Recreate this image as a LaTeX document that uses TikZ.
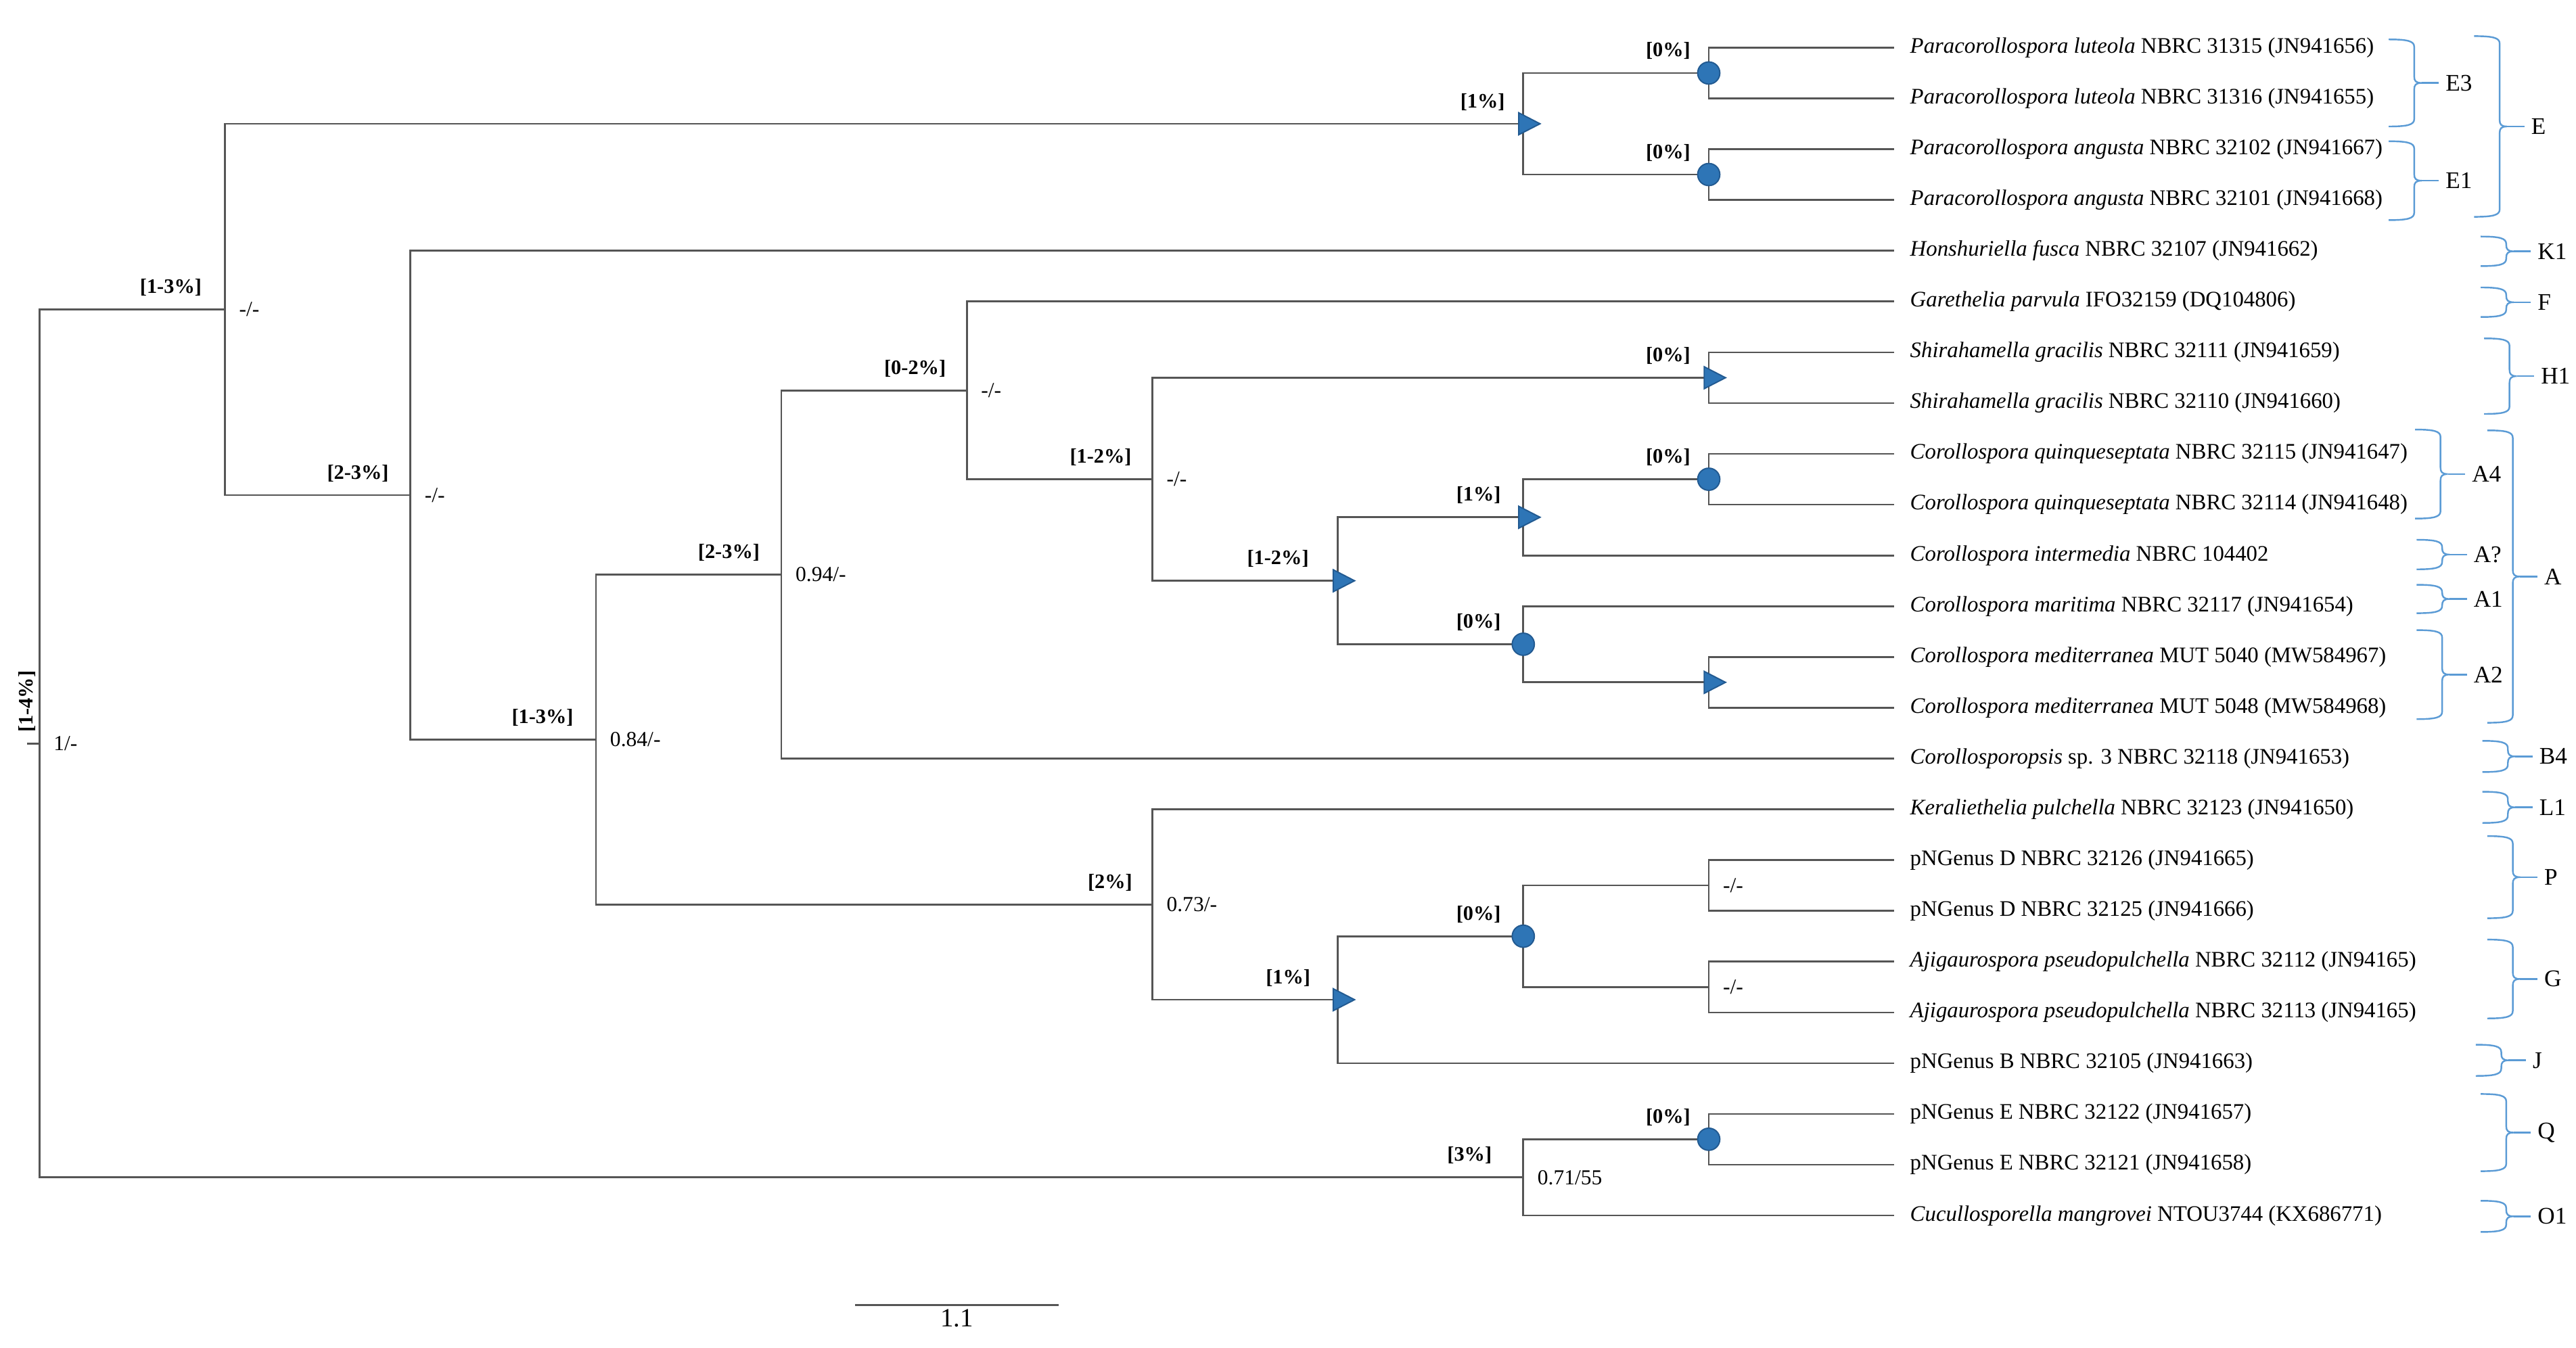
\documentclass[tikz,border=0pt]{standalone}
\usepackage{fontspec}
\setmainfont{Liberation Serif}
\usepackage{tikz}
\usetikzlibrary{shapes.geometric,positioning}

\definecolor{markblue}{RGB}{46,117,182}
\definecolor{markedge}{RGB}{34,90,145}
\definecolor{bracecol}{RGB}{91,155,213}
\definecolor{treegray}{RGB}{85,85,85}

% x position of a tree level
\newcommand{\lvl}[1]{24+112.9*#1}

% curly brace with a clade name: x, top, bottom, node name, text
\newcommand{\cladebrace}[5]{%
  \pgfmathsetmacro{\brx}{#1+15.5}%
  \pgfmathsetmacro{\brm}{(#2+#3)/2}%
  \draw[brace] (#1,#2) .. controls (\brx-4,#2) and (\brx,#2+1) .. (\brx,#2+4.5)
    -- (\brx,\brm-4) .. controls (\brx,\brm-1.2) and (\brx+1,\brm) .. (\brx+4.5,\brm)
    .. controls (\brx+1,\brm) and (\brx,\brm+1.2) .. (\brx,\brm+4)
    -- (\brx,#3-4.5) .. controls (\brx,#3-1) and (\brx-4,#3) .. (#1,#3);
  \coordinate (#4-tip) at (\brx+4.5,\brm);
  \node[clade, right=10.5pt of #4-tip] (#4) {#5};
  \draw[brace] (#4-tip) -- (#4);
}

\begin{document}
\begin{tikzpicture}[
    x=1pt, y=-1pt,
    branch/.style={draw=treegray, line width=1.1pt},
    leaf/.style={inner sep=0pt, font=\fontsize{13.5}{16}\selectfont},
    pct/.style={inner sep=0pt, font=\fontsize{12.5}{15}\selectfont\bfseries},
    supp/.style={inner sep=0pt, font=\fontsize{13}{15}\selectfont},
    tri/.style={isosceles triangle, isosceles triangle stretches, minimum width=13.4pt, minimum height=13pt, inner sep=0pt, fill=markblue, draw=markedge, line width=0.8pt},
    dot/.style={circle, minimum size=13.5pt, inner sep=0pt, fill=markblue, draw=markedge, line width=0.8pt},
    brace/.style={draw=bracecol, line width=1pt},
    clade/.style={inner xsep=4pt, inner ysep=0pt, font=\fontsize{14.5}{17}\selectfont},
    scalelab/.style={inner sep=0pt, font=\fontsize{16}{18}\selectfont}
]
    \useasboundingbox (0,0) rectangle (1568,820.6);

    % Leaves
    \foreach \i in {1,...,24}
        \coordinate (l\i) at (\lvl{10}, {29+(\i-1)*30.913});

    % Internal nodes
    \coordinate (root) at (\lvl{0}, 452.6);
    \coordinate (stub) at (16.5, 452.6);
    \coordinate (a1)  at (\lvl{1}, 188.4);
    \coordinate (a2)  at (\lvl{2}, 301.45);
    \coordinate (a3)  at (\lvl{3}, 450.2);
    \coordinate (a4)  at (\lvl{4}, 349.75);
    \coordinate (a5)  at (\lvl{5}, 237.7);
    \coordinate (a6)  at (\lvl{6}, 291.75);
    \coordinate (a7)  at (\lvl{7}, 353.55);
    \coordinate (a8)  at (\lvl{8}, 314.9);
    \coordinate (m8)  at (\lvl{8}, 392.2);
    \coordinate (e8)  at (\lvl{8}, 75.35);
    \coordinate (e9a) at (\lvl{9}, 44.45);
    \coordinate (e9b) at (\lvl{9}, 106.25);
    \coordinate (h9)  at (\lvl{9}, 229.95);
    \coordinate (q9)  at (\lvl{9}, 291.75);
    \coordinate (d9)  at (\lvl{9}, 415.4);
    \coordinate (b6)  at (\lvl{6}, 550.65);
    \coordinate (b7)  at (\lvl{7}, 608.6);
    \coordinate (b8)  at (\lvl{8}, 569.95);
    \coordinate (p9)  at (\lvl{9}, 539.05);
    \coordinate (g9)  at (\lvl{9}, 600.85);
    \coordinate (o8)  at (\lvl{8}, 716.8);
    \coordinate (qq9) at (\lvl{9}, 693.55);

    % Branches
    \draw[branch] (stub) -- (root);
    \foreach \p/\c in {root/a1, root/o8, a1/e8, a1/a2, e8/e9a, e8/e9b, e9a/l1, e9a/l2,
        e9b/l3, e9b/l4, a2/l5, a2/a3, a3/a4, a3/b6, a4/a5, a4/l15, a5/l6, a5/a6,
        a6/h9, a6/a7, h9/l7, h9/l8, a7/a8, a7/m8, a8/q9, a8/l11, q9/l9, q9/l10,
        m8/l12, m8/d9, d9/l13, d9/l14, b6/l16, b6/b7, b7/b8, b7/l21, b8/p9, b8/g9,
        p9/l17, p9/l18, g9/l19, g9/l20, o8/qq9, o8/l24, qq9/l22, qq9/l23}
        \draw[branch] (\p) |- (\c);

    % Markers
    \foreach \n in {e8, h9, a7, a8, d9, b7}
        \node[tri] (\n-m) at ([xshift=1.3pt]\n) {};
    \foreach \n in {e9a, e9b, q9, m8, b8, qq9}
        \node[dot] (\n-m) at (\n) {};

    % Percent labels
    \foreach \n/\t/\g in {a1/{[1-3\%]}/14pt, a2/{[2-3\%]}/13pt, a3/{[1-3\%]}/13.5pt,
        a4/{[2-3\%]}/13pt, a5/{[0-2\%]}/12.6pt, a6/{[1-2\%]}/12.5pt, a7/{[1-2\%]}/17.5pt,
        a8/{[1\%]}/13.5pt, q9/{[0\%]}/11pt, m8/{[0\%]}/13.5pt, h9/{[0\%]}/11pt,
        e8/{[1\%]}/11pt, e9a/{[0\%]}/11pt, e9b/{[0\%]}/11pt, b6/{[2\%]}/12pt,
        b7/{[1\%]}/16.5pt, b8/{[0\%]}/13.5pt, o8/{[3\%]}/19pt, qq9/{[0\%]}/11pt}
        \node[pct, above left=8pt and \g of \n] (\n-p) {\t};
    \node[pct, rotate=90, anchor=south west] (root-p) at ([xshift=-2pt, yshift=6.5pt]root) {[1-4\%]};

    % Support values
    \foreach \n/\t in {root/{1/-}, a1/{-/-}, a2/{-/-}, a3/{0.84/-}, a4/{0.94/-},
        a5/{-/-}, a6/{-/-}, b6/{0.73/-}, o8/{0.71/55}, p9/{-/-}, g9/{-/-}}
        \node[supp, right=8.5pt of \n] (\n-s) {\t};

    % Taxa
    \foreach \i/\txt in {
        1/{\textit{Paracorollospora luteola} NBRC 31315 (JN941656)},
        2/{\textit{Paracorollospora luteola} NBRC 31316 (JN941655)},
        3/{\textit{Paracorollospora angusta} NBRC 32102 (JN941667)},
        4/{\textit{Paracorollospora angusta} NBRC 32101 (JN941668)},
        5/{\textit{Honshuriella fusca} NBRC 32107 (JN941662)},
        6/{\textit{Garethelia parvula} IFO32159 (DQ104806)},
        7/{\textit{Shirahamella gracilis} NBRC 32111 (JN941659)},
        8/{\textit{Shirahamella gracilis} NBRC 32110 (JN941660)},
        9/{\textit{Corollospora quinqueseptata} NBRC 32115 (JN941647)},
        10/{\textit{Corollospora quinqueseptata} NBRC 32114 (JN941648)},
        11/{\textit{Corollospora intermedia} NBRC 104402},
        12/{\textit{Corollospora maritima} NBRC 32117 (JN941654)},
        13/{\textit{Corollospora mediterranea} MUT 5040 (MW584967)},
        14/{\textit{Corollospora mediterranea} MUT 5048 (MW584968)},
        15/{\textit{Corollosporopsis} sp. 3 NBRC 32118 (JN941653)},
        16/{\textit{Keraliethelia pulchella} NBRC 32123 (JN941650)},
        17/{pNGenus D NBRC 32126 (JN941665)},
        18/{pNGenus D NBRC 32125 (JN941666)},
        19/{\textit{Ajigaurospora pseudopulchella} NBRC 32112 (JN94165)},
        20/{\textit{Ajigaurospora pseudopulchella} NBRC 32113 (JN94165)},
        21/{pNGenus B NBRC 32105 (JN941663)},
        22/{pNGenus E NBRC 32122 (JN941657)},
        23/{pNGenus E NBRC 32121 (JN941658)},
        24/{\textit{Cucullosporella mangrovei} NTOU3744 (KX686771)}}
        \node[leaf, right=9.5pt of l\i] (t\i) {\txt};

    % Clade braces
    \cladebrace{1454}{24}{77}{E3}{E3}
    \cladebrace{1454}{86}{134}{E1}{E1}
    \cladebrace{1506}{22}{132}{E}{E}
    \cladebrace{1510}{144}{162}{K1}{K1}
    \cladebrace{1510}{175}{193}{F}{F}
    \cladebrace{1512}{206}{252}{H1}{H1}
    \cladebrace{1470}{261.5}{315.7}{A4}{A4}
    \cladebrace{1471}{328.6}{346.6}{Aq}{A?}
    \cladebrace{1471}{356}{373.3}{A1}{A1}
    \cladebrace{1471}{383.6}{437.8}{A2}{A2}
    \cladebrace{1514}{262}{440}{A}{A}
    \cladebrace{1511}{451}{470}{B4}{B4}
    \cladebrace{1511}{482}{501}{L1}{L1}
    \cladebrace{1514}{509}{559}{P}{P}
    \cladebrace{1514}{572}{620}{G}{G}
    \cladebrace{1507}{636}{655}{J}{J}
    \cladebrace{1510}{666}{713}{Q}{Q}
    \cladebrace{1510}{731}{750}{O1}{O1}

    % Scale bar
    \coordinate (sbl) at (520.6, 794.4);
    \coordinate (sbr) at (644.5, 794.4);
    \draw[branch] (sbl) -- (sbr) node[scalelab, midway, below=2pt] (sblab) {1.1};
\end{tikzpicture}
\end{document}
